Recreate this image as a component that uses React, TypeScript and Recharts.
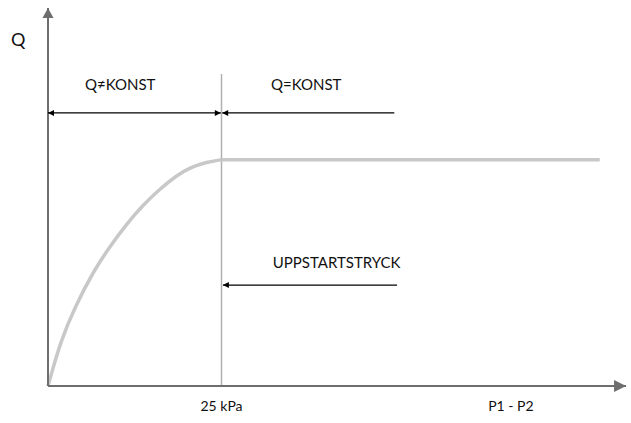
import React from 'react';
import { LineChart, Line, XAxis, YAxis, ReferenceLine, ReferenceDot } from 'recharts';

// differential pressure (kPa) and relative flow
const pressure = [0, 0.5, 1.8, 3.9, 6.5, 9, 11.3, 13.7, 16.1, 18.5, 20.5, 22.9, 25, 79.5];
const flow = [0, 0.055, 0.195, 0.35, 0.505, 0.62, 0.715, 0.8, 0.87, 0.93, 0.966, 0.99, 1, 1];

const startupPressure = 25;
const startupLineTop = 1.379;

const tickValues = [25, 66.7];
const tickLabels = ['25 kPa', 'P1 - P2'];

// dimension arrows: from/to in kPa, level in Q, which ends get a head
const arrowFrom = [0, 25.1, 25.2];
const arrowTo = [24.9, 49.9, 50.3];
const arrowLevel = [1.207, 1.207, 0.446];
const arrowHeads = [['start', 'end'], ['start'], ['start']];

const noteText = ['Q≠KONST', 'Q=KONST', 'UPPSTARTSTRYCK'];
const noteX = [10.4, 37.2, 41.6];
const noteY = [1.33, 1.33, 0.544];

// rising part and constant part drawn as two lines
const data = pressure.map((p, i) => ({
  p,
  rise: p <= startupPressure ? flow[i] : undefined,
  flat: p >= startupPressure ? flow[i] : undefined,
}));

const FONT = 'Lato, "Open Sans", sans-serif';

const head = (x: number, y: number, dx: number, dy: number, len: number, half: number, fill: string, key: string) => {
  const bx = x - dx * len;
  const by = y - dy * len;
  const px = -dy * half;
  const py = dx * half;
  return <polygon key={key} points={`${x},${y} ${bx + px},${by + py} ${bx - px},${by - py}`} fill={fill} />;
};

const ArrowShape = (props: any) => {
  const { x1, y1, x2, y2, heads, color, width, len, half } = props;
  const L = Math.hypot(x2 - x1, y2 - y1) || 1;
  const ux = (x2 - x1) / L;
  const uy = (y2 - y1) / L;
  return (
    <g>
      <line x1={x1} y1={y1} x2={x2} y2={y2} stroke={color} strokeWidth={width} />
      {heads.includes('start') && head(x1, y1, -ux, -uy, len, half, color, 's')}
      {heads.includes('end') && head(x2, y2, ux, uy, len, half, color, 'e')}
    </g>
  );
};

export default function App() {
  return (
    <div style={{ position: 'absolute', left: 0, top: 0, background: '#fff' }}>
      <LineChart width={631} height={423} data={data} margin={{ top: 24, right: 7, left: 48, bottom: 7 }}>
        <XAxis
          dataKey="p"
          type="number"
          domain={[0, 83]}
          ticks={tickValues}
          tickFormatter={(v: number) => tickLabels[tickValues.indexOf(v)]}
          axisLine={false}
          tickLine={false}
          tickMargin={9}
          height={30}
          tick={{ fill: '#111', fontSize: 14, fontFamily: FONT }}
        />
        <YAxis hide domain={[0, 1.6]} allowDataOverflow />

        <ReferenceLine
          segment={[{ x: startupPressure, y: 0 }, { x: startupPressure, y: startupLineTop }]}
          stroke="#b0b0b0"
          strokeWidth={1.5}
          ifOverflow="visible"
        />

        <Line
          type="basis"
          dataKey="rise"
          stroke="#c8c8c8"
          strokeWidth={3.5}
          dot={false}
          isAnimationActive={false}
        />
        <Line
          type="linear"
          dataKey="flat"
          stroke="#c8c8c8"
          strokeWidth={3.5}
          dot={false}
          isAnimationActive={false}
        />

        {/* axes with arrow tips */}
        <ReferenceLine
          segment={[{ x: 0, y: 0 }, { x: 83.3, y: 0 }]}
          ifOverflow="visible"
          shape={(p: any) => <ArrowShape {...p} heads={['end']} color="#6e6e6e" width={2} len={12} half={6} />}
        />
        <ReferenceLine
          segment={[{ x: 0, y: 0 }, { x: 0, y: 1.671 }]}
          ifOverflow="visible"
          shape={(p: any) => <ArrowShape {...p} heads={['end']} color="#6e6e6e" width={2} len={10} half={5.5} />}
        />

        {arrowFrom.map((a, i) => (
          <ReferenceLine
            key={`arrow-${i}`}
            segment={[{ x: a, y: arrowLevel[i] }, { x: arrowTo[i], y: arrowLevel[i] }]}
            ifOverflow="visible"
            shape={(p: any) => <ArrowShape {...p} heads={arrowHeads[i]} color="#000" width={1.2} len={6} half={3} />}
          />
        ))}

        {noteText.map((t, i) => (
          <ReferenceDot
            key={`note-${i}`}
            x={noteX[i]}
            y={noteY[i]}
            r={0}
            fill="none"
            stroke="none"
            ifOverflow="visible"
            label={{ value: t, position: 'center', fill: '#111', fontSize: 15, fontFamily: FONT }}
          />
        ))}

        <ReferenceDot
          x={-4.3}
          y={1.53}
          r={0}
          fill="none"
          stroke="none"
          ifOverflow="visible"
          label={{ value: 'Q', position: 'center', fill: '#111', fontSize: 18, fontFamily: FONT }}
        />
      </LineChart>
    </div>
  );
}
